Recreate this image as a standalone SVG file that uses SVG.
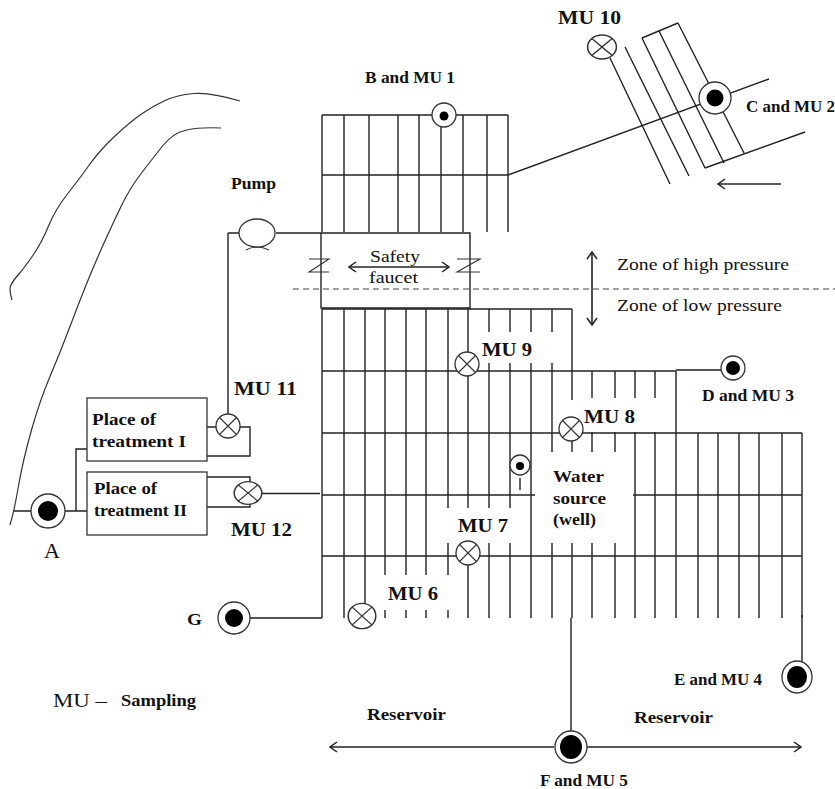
<svg xmlns="http://www.w3.org/2000/svg" width="835" height="789" viewBox="0 0 835 789">
<style>
text{font-family:"Liberation Serif","Times New Roman",serif;fill:#111}
.b{font-weight:bold;font-size:16px}
.m{font-weight:bold;font-size:18px}
.r{font-size:17px}
.l{fill:none;stroke:#222;stroke-width:1.4}
.t{fill:none;stroke:#333;stroke-width:1.2}
.c{fill:#fff;stroke:#333;stroke-width:1.3}
.x{fill:none;stroke:#333;stroke-width:1.1}
.d{fill:#000}
.a{fill:none;stroke:#222;stroke-width:1.6;marker-start:url(#h);marker-end:url(#h)}
.s{fill:none;stroke:#222;stroke-width:1.4;marker-end:url(#h)}
</style>
<defs>
<marker id="h" viewBox="0 0 12 12" refX="11" refY="6" markerWidth="12" markerHeight="12" markerUnits="userSpaceOnUse" orient="auto-start-reverse"><path d="M4 1L11 6L4 11" fill="none" stroke="#222" stroke-width="1.5"/></marker>
<g id="xv"><circle r="12" class="c"/><path d="M-8.500 -8.500L8.500 8.500M-8.500 8.500L8.500 -8.500" class="x"/></g>
</defs>
<g id="connectors">
<path class="t" d="M240 101Q210 92 193.500 93.500Q177 95 165 100.500Q153 106 141.500 114Q130 122 115 136Q100 150 90 164Q80 178 67.500 194Q55 210 48.500 226Q42 242 33.500 254.500Q25 267 18.500 274.500Q12 282 10.500 286Q9 290 12 300"/>
<path class="t" d="M221 128Q200 127 186.500 130Q173 133 163 145.500Q153 158 141.500 173Q130 188 121.500 205.500Q113 223 104 243Q95 263 87.500 281.500Q80 300 70 326.500Q60 353 50 376.500Q40 400 31.500 430Q23 460 18.500 486Q14 512 10 525"/>
<path class="l" d="M322 115H508M322 175H508M322 115V232M344 115V232M369 115V232M398 115V232M419 115V232M441 115V232M463 115V232M487 115V232M508 115V232"/>
<path class="l" d="M508 175L769 79M705 168L805 132M610 58L670 184M625 47L689 176M642 38L705 168M659 31L724 163M678 23L744 153M642 38L678 23"/>
<path class="s" d="M781 184H718"/>
<path class="l" d="M321 233H470V308H321ZM276 233H321M228 233H239M228 233V415"/>
<path class="x" d="M246 250Q257 244 269 250"/>
<path class="x" d="M309 259H329L309 272H329M457 259H480L457 272H480"/>
<path class="a" d="M349 267H449"/>
<path d="M293 289H835" fill="none" stroke="#444" stroke-width="1.2" stroke-dasharray="6 4"/>
<path class="a" d="M592 252V325"/>
<path class="l" d="M322 309H572M322 371H676M322 433H802M322 495H535M633 495H802M322 556H802"/>
<path class="l" d="M322 309V618M344 309V618M365 309V610M385 309V575M385 610V618M406 309V575M406 610V618M426 309V575M426 610V618M448 309V508M448 543V575M448 610V618M468 309V508M468 565V618"/>
<path class="l" d="M489 309V332M489 363V508M489 543V618M510 309V332M510 363V508M510 543V618M531 309V332M531 363V618M552 309V332M552 363V452M552 543V618M572 309V400M572 440V452M572 543V618M592 371V398M592 432V452M592 543V618M615 371V398M615 432V452M615 543V618M635 371V398M635 432V618M655 371V398M655 432V618M676 371V618M698 433V618M718 433V618M739 433V618M759 433V618M782 433V618M802 433V618"/>
<path class="l" d="M676 370H722M571 618V731M802 615V662M250 618H322M14 511H31M65 511H87M76 511V449H87M207 427H216M240 427H250V456H207M207 477H250V483M207 507H250V503M262 493.500H320M520 478V490"/>
<path class="a" d="M330 747H554M586 747H801"/>
</g>
<g id="pump"><ellipse cx="257" cy="233" rx="18" ry="14" class="c"/></g>
<g id="b"><circle cx="444" cy="115" r="12" class="c"/><circle cx="444" cy="116" r="4.500" class="d"/></g>
<g id="c"><circle cx="715" cy="98" r="16" class="c"/><circle cx="715" cy="98" r="8.500" class="d"/></g>
<g id="mu10"><use href="#xv" transform="translate(602 47) scale(1.2 1)"/></g>
<g id="mu9"><use href="#xv" transform="translate(467 364)"/></g>
<g id="mu8"><use href="#xv" transform="translate(571 429)"/></g>
<g id="mu7"><use href="#xv" transform="translate(468 553)"/></g>
<g id="mu6"><use href="#xv" transform="translate(362 616) scale(1.15 1.05)"/></g>
<g id="mu11"><use href="#xv" transform="translate(228 426)"/></g>
<g id="mu12"><use href="#xv" transform="translate(248 493) scale(1.15 .95)"/></g>
<g id="well"><circle cx="520" cy="465" r="10" class="c"/><circle cx="520" cy="466" r="4" class="d"/></g>
<g id="d"><circle cx="733" cy="368" r="12" class="c"/><circle cx="733" cy="368" r="7" class="d"/></g>
<g id="a"><circle cx="48" cy="511" r="17" class="c"/><circle cx="48" cy="511" r="10" class="d"/></g>
<g id="g"><circle cx="234" cy="618" r="16" class="c"/><circle cx="234" cy="618" r="9" class="d"/></g>
<g id="e"><ellipse cx="797" cy="677" rx="15" ry="16" class="c"/><ellipse cx="797" cy="677" rx="10" ry="11" class="d"/></g>
<g id="f"><ellipse cx="571" cy="747" rx="16" ry="16" class="c"/><ellipse cx="571" cy="747" rx="11" ry="12" class="d"/></g>
<g id="t1"><rect x="87" y="398" width="120" height="63" class="c"/><text x="92" y="425" class="b" textLength="64" lengthAdjust="spacingAndGlyphs">Place of</text><text x="92" y="447" class="b" textLength="94" lengthAdjust="spacingAndGlyphs">treatment  I</text></g>
<g id="t2"><rect x="87" y="472" width="120" height="63" class="c"/><text x="94" y="494" class="b" textLength="63" lengthAdjust="spacingAndGlyphs">Place of</text><text x="94" y="516" class="b" textLength="93" lengthAdjust="spacingAndGlyphs">treatment II</text></g>
<g id="labels">
<text x="365" y="83" class="b" textLength="90" lengthAdjust="spacingAndGlyphs">B and MU 1</text>
<text x="558" y="24" class="m" textLength="63" lengthAdjust="spacingAndGlyphs">MU 10</text>
<text x="746" y="112" class="b" textLength="89" lengthAdjust="spacingAndGlyphs">C and MU 2</text>
<text x="231" y="189" class="b" textLength="45" lengthAdjust="spacingAndGlyphs">Pump</text>
<text x="370" y="262" class="r" textLength="50" lengthAdjust="spacingAndGlyphs">Safety</text>
<text x="369" y="283" class="r" textLength="49" lengthAdjust="spacingAndGlyphs">faucet</text>
<text x="617" y="270" class="r" textLength="172" lengthAdjust="spacingAndGlyphs">Zone of high pressure</text>
<text x="617" y="311" class="r" textLength="165" lengthAdjust="spacingAndGlyphs">Zone of low pressure</text>
<text x="482" y="356" class="m" textLength="50" lengthAdjust="spacingAndGlyphs">MU 9</text>
<text x="584" y="423" class="m" textLength="51" lengthAdjust="spacingAndGlyphs">MU 8</text>
<text x="702" y="401" class="b" textLength="92" lengthAdjust="spacingAndGlyphs">D and MU 3</text>
<text x="234" y="395" class="m" textLength="63" lengthAdjust="spacingAndGlyphs">MU 11</text>
<text x="553" y="482" class="b" textLength="51" lengthAdjust="spacingAndGlyphs">Water</text>
<text x="553" y="504" class="b" textLength="53" lengthAdjust="spacingAndGlyphs">source</text>
<text x="553" y="525" class="b" textLength="43" lengthAdjust="spacingAndGlyphs">(well)</text>
<text x="458" y="532" class="m" textLength="50" lengthAdjust="spacingAndGlyphs">MU 7</text>
<text x="231" y="536" class="m" textLength="61" lengthAdjust="spacingAndGlyphs">MU 12</text>
<text x="388" y="600" class="m" textLength="50" lengthAdjust="spacingAndGlyphs">MU 6</text>
<text x="44" y="558" style="font-size:20px" textLength="16" lengthAdjust="spacingAndGlyphs">A</text>
<text x="187" y="625" class="b" textLength="15" lengthAdjust="spacingAndGlyphs">G</text>
<text x="674" y="685" class="b" textLength="88" lengthAdjust="spacingAndGlyphs">E and MU 4</text>
<text x="53" y="707" style="font-size:18px" textLength="54" lengthAdjust="spacingAndGlyphs">MU –</text>
<text x="121" y="706" class="b" textLength="75" lengthAdjust="spacingAndGlyphs">Sampling</text>
<text x="367" y="720" class="b" textLength="79" lengthAdjust="spacingAndGlyphs">Reservoir</text>
<text x="634" y="723" class="b" textLength="79" lengthAdjust="spacingAndGlyphs">Reservoir</text>
<text x="540" y="786" class="b" textLength="88" lengthAdjust="spacingAndGlyphs">F and MU 5</text>
</g>
</svg>
